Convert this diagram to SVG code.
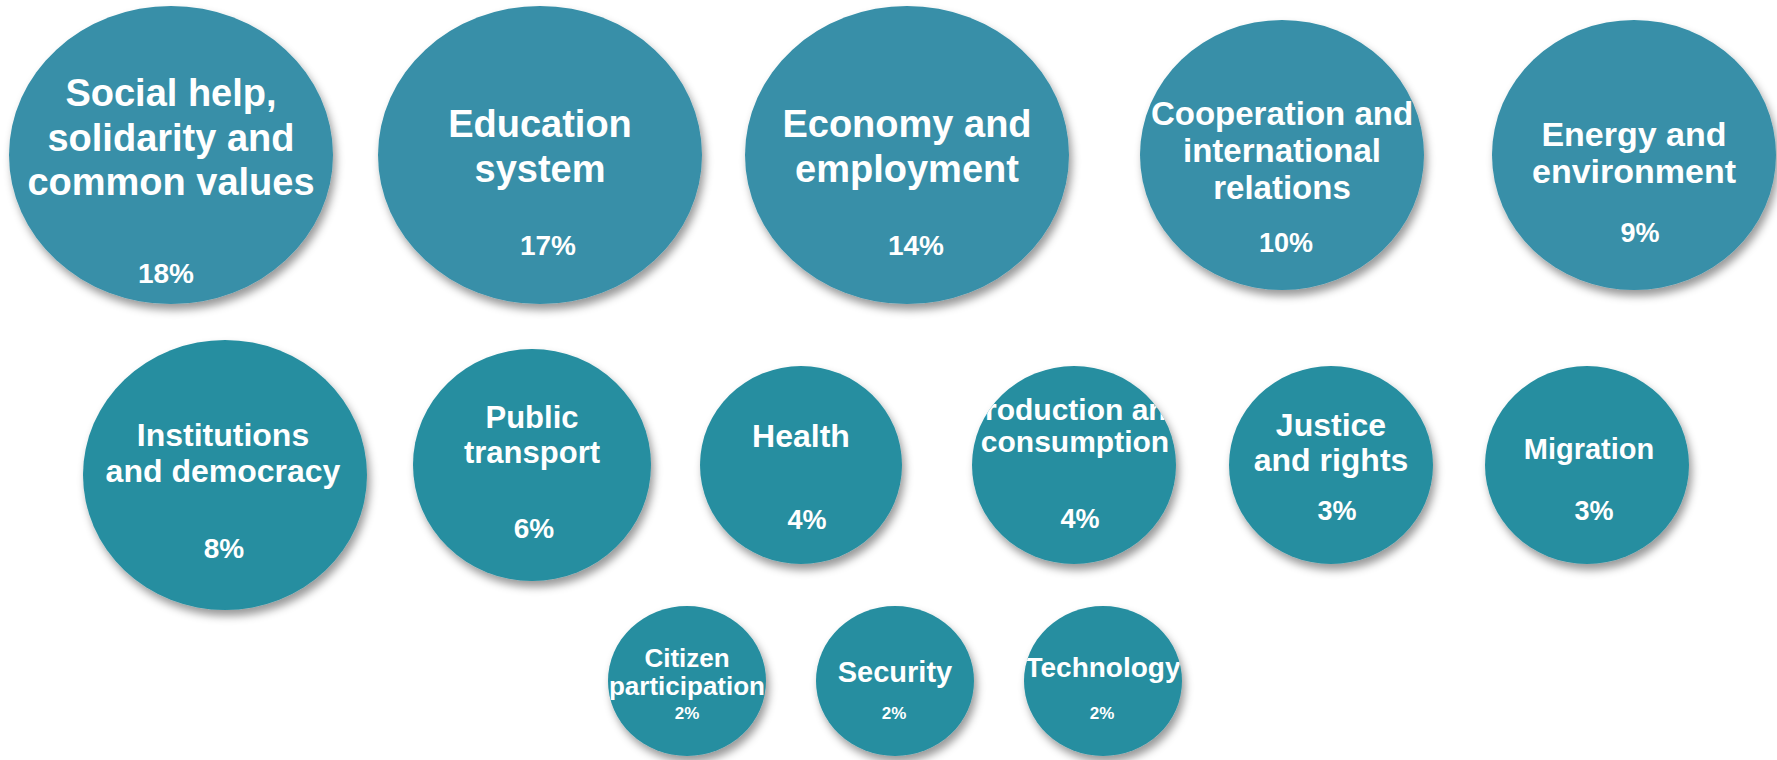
<svg xmlns="http://www.w3.org/2000/svg" width="1777" height="760" viewBox="0 0 1777 760">
<style>
.a{fill:#378FA8}
.b{fill:#268EA0}
.t{font-family:"Liberation Sans",Arial,sans-serif;font-weight:700;fill:#fff;text-anchor:middle}
</style>
<defs>
<filter id="sh" x="-20%" y="-20%" width="140%" height="150%">
<feDropShadow dx="3" dy="6" stdDeviation="4" flood-color="#000" flood-opacity="0.4"/>
</filter>
<clipPath id="c4"><ellipse cx="1282" cy="155" rx="142" ry="135"/></clipPath>
<clipPath id="c9"><ellipse cx="1074" cy="465" rx="102" ry="99"/></clipPath>
<clipPath id="c12"><ellipse cx="687" cy="681" rx="79" ry="75"/></clipPath>
<clipPath id="c14"><ellipse cx="1103" cy="681" rx="79" ry="75"/></clipPath>
</defs>
<rect width="1777" height="760" fill="#fff"/>
<g id="n1"><ellipse class="a" filter="url(#sh)" cx="171" cy="155" rx="162" ry="149"/>
<text class="t" font-size="38"><tspan x="171" y="106">Social help,</tspan><tspan x="171" y="151">solidarity and</tspan><tspan x="171" y="195">common values</tspan></text>
<text class="t" font-size="28" x="166" y="283">18%</text></g>
<g id="n2"><ellipse class="a" filter="url(#sh)" cx="540" cy="155" rx="162" ry="149"/>
<text class="t" font-size="38"><tspan x="540" y="137">Education</tspan><tspan x="540" y="182">system</tspan></text>
<text class="t" font-size="28" x="548" y="255">17%</text></g>
<g id="n3"><ellipse class="a" filter="url(#sh)" cx="907" cy="155" rx="162" ry="149"/>
<text class="t" font-size="38"><tspan x="907" y="137">Economy and</tspan><tspan x="907" y="182">employment</tspan></text>
<text class="t" font-size="28" x="916" y="255">14%</text></g>
<g id="n4"><ellipse class="a" filter="url(#sh)" cx="1282" cy="155" rx="142" ry="135"/>
<text class="t" font-size="33" clip-path="url(#c4)"><tspan x="1282" y="125">Cooperation and</tspan><tspan x="1282" y="162">international</tspan><tspan x="1282" y="199">relations</tspan></text>
<text class="t" font-size="27" x="1286" y="252">10%</text></g>
<g id="n5"><ellipse class="a" filter="url(#sh)" cx="1634" cy="155" rx="142" ry="135"/>
<text class="t" font-size="34"><tspan x="1634" y="146">Energy and</tspan><tspan x="1634" y="183">environment</tspan></text>
<text class="t" font-size="27" x="1640" y="242">9%</text></g>
<g id="n6"><ellipse class="b" filter="url(#sh)" cx="225" cy="475" rx="142" ry="135"/>
<text class="t" font-size="32"><tspan x="223" y="446">Institutions</tspan><tspan x="223" y="482">and democracy</tspan></text>
<text class="t" font-size="28" x="224" y="558">8%</text></g>
<g id="n7"><ellipse class="b" filter="url(#sh)" cx="532" cy="465" rx="119" ry="116"/>
<text class="t" font-size="31"><tspan x="532" y="428">Public</tspan><tspan x="532" y="463">transport</tspan></text>
<text class="t" font-size="28" x="534" y="538">6%</text></g>
<g id="n8"><ellipse class="b" filter="url(#sh)" cx="801" cy="465" rx="101" ry="99"/>
<text class="t" font-size="32" x="801" y="447">Health</text>
<text class="t" font-size="27" x="807" y="529">4%</text></g>
<g id="n9"><ellipse class="b" filter="url(#sh)" cx="1074" cy="465" rx="102" ry="99"/>
<text class="t" font-size="30" clip-path="url(#c9)"><tspan x="1075" y="420">Production and</tspan><tspan x="1075" y="452">consumption</tspan></text>
<text class="t" font-size="27" x="1080" y="528">4%</text></g>
<g id="n10"><ellipse class="b" filter="url(#sh)" cx="1331" cy="465" rx="102" ry="99"/>
<text class="t" font-size="32"><tspan x="1331" y="436">Justice</tspan><tspan x="1331" y="471">and rights</tspan></text>
<text class="t" font-size="27" x="1337" y="520">3%</text></g>
<g id="n11"><ellipse class="b" filter="url(#sh)" cx="1587" cy="465" rx="102" ry="99"/>
<text class="t" font-size="29" x="1589" y="459">Migration</text>
<text class="t" font-size="27" x="1594" y="520">3%</text></g>
<g id="n12"><ellipse class="b" filter="url(#sh)" cx="687" cy="681" rx="79" ry="75"/>
<text class="t" font-size="26" clip-path="url(#c12)"><tspan x="687" y="667">Citizen</tspan><tspan x="687" y="695">participation</tspan></text>
<text class="t" font-size="17" x="687" y="719">2%</text></g>
<g id="n13"><ellipse class="b" filter="url(#sh)" cx="895" cy="681" rx="79" ry="75"/>
<text class="t" font-size="29" x="895" y="682">Security</text>
<text class="t" font-size="17" x="894" y="719">2%</text></g>
<g id="n14"><ellipse class="b" filter="url(#sh)" cx="1103" cy="681" rx="79" ry="75"/>
<text class="t" font-size="28" clip-path="url(#c14)" x="1103" y="677">Technology</text>
<text class="t" font-size="17" x="1102" y="719">2%</text></g>
<g id="connectors"/>
</svg>
